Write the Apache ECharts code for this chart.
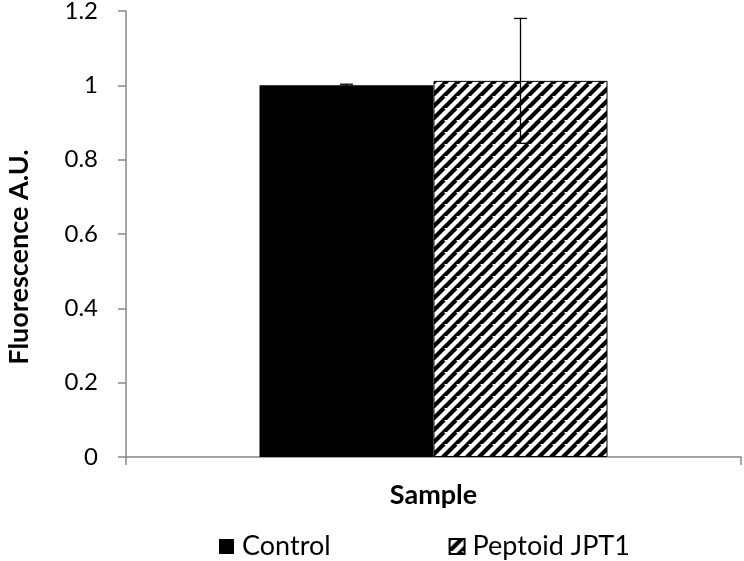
<!DOCTYPE html>
<html>
<head>
<meta charset="utf-8">
<script src="https://cdn.jsdelivr.net/npm/echarts@6/dist/echarts.min.js"></script>
<style>
  html, body { margin: 0; padding: 0; background: #fff; }
  #chart { width: 744px; height: 561px; }
</style>
</head>
<body>
<div id="chart"></div>
<script>
const categories = ['Sample']
const seriesNames = ['Control', 'Peptoid JPT1']
const means = [1.0, 1.012]
const errors = [0.003, 0.168]
const yTicks = { min: 0, max: 1.2, interval: 0.2 }

// diagonal hatch for the second bar
function hatch() {
  const c = document.createElement('canvas')
  c.width = 12
  c.height = 12
  const ctx = c.getContext('2d')
  ctx.fillStyle = '#fff'
  ctx.fillRect(0, 0, 12, 12)
  ctx.strokeStyle = '#000'
  ctx.lineWidth = 4.2
  ctx.beginPath()
  for (let k = -12; k <= 24; k += 12) {
    ctx.moveTo(k - 12, 24)
    ctx.lineTo(k + 12, 0)
  }
  ctx.stroke()
  return c
}

const chart = echarts.init(document.getElementById('chart'))
const font = 'Lato, "Open Sans", sans-serif'
const barW = 174

chart.setOption({
  animation: false,
  textStyle: { fontFamily: font },
  grid: { left: 126, right: 3, top: 11, bottom: 104, outerBoundsMode: 'none', containLabel: false },
  legend: {
    top: 528,
    left: 214,
    icon: 'rect',
    itemWidth: 15,
    itemHeight: 15,
    itemGap: 118,
    textStyle: { fontSize: 27, color: '#000', fontFamily: font, padding: [0, 0, 0, 3] },
    data: seriesNames
  },
  xAxis: {
    type: 'category',
    data: categories,
    name: 'Sample',
    nameLocation: 'middle',
    nameGap: 25,
    nameTextStyle: { fontSize: 27, fontWeight: 'bold', color: '#000' },
    axisLine: { lineStyle: { color: '#888', width: 1.5 } },
    axisTick: { show: true, length: 8, lineStyle: { color: '#888', width: 1.5 } },
    axisLabel: { show: false }
  },
  yAxis: {
    type: 'value',
    min: yTicks.min,
    max: yTicks.max,
    interval: yTicks.interval,
    name: 'Fluorescence A.U.',
    nameLocation: 'middle',
    nameGap: 93,
    nameTextStyle: { fontSize: 27, fontWeight: 'bold', color: '#000', padding: [0, 46, 0, 0] },
    axisLine: { show: true, lineStyle: { color: '#888', width: 1.5 } },
    axisTick: { show: true, length: 8, lineStyle: { color: '#888', width: 1.5 } },
    axisLabel: { fontSize: 24, color: '#000', margin: 28, formatter: v => String(+v.toFixed(1)) },
    splitLine: { show: false }
  },
  series: [
    {
      name: seriesNames[0],
      type: 'bar',
      data: [means[0]],
      barWidth: barW,
      barGap: '0%',
      itemStyle: { color: '#000' }
    },
    {
      name: seriesNames[1],
      type: 'bar',
      data: [means[1]],
      barWidth: barW,
      barGap: '0%',
      itemStyle: {
        color: { image: hatch(), repeat: 'repeat' },
        borderColor: '#000',
        borderWidth: 1
      }
    },
    {
      type: 'custom',
      silent: true,
      z: 10,
      data: means.map((m, i) => [0, m, errors[i], i]),
      renderItem(params, api) {
        const i = api.value(3)
        const m = api.value(1)
        const e = api.value(2)
        const c = api.coord([0, m])[0]
        const center = c + (i === 0 ? -barW / 2 : barW / 2)
        const top = api.coord([0, m + e])[1]
        const bot = api.coord([0, m - e])[1]
        const cap = 6.5
        const style = { stroke: '#000', lineWidth: 1.3 }
        return {
          type: 'group',
          children: [
            { type: 'line', shape: { x1: center, y1: top, x2: center, y2: bot }, style },
            { type: 'line', shape: { x1: center - cap, y1: top, x2: center + cap, y2: top }, style },
            { type: 'line', shape: { x1: center - cap, y1: bot, x2: center + cap, y2: bot }, style }
          ]
        }
      }
    }
  ]
})
</script>
</body>
</html>
